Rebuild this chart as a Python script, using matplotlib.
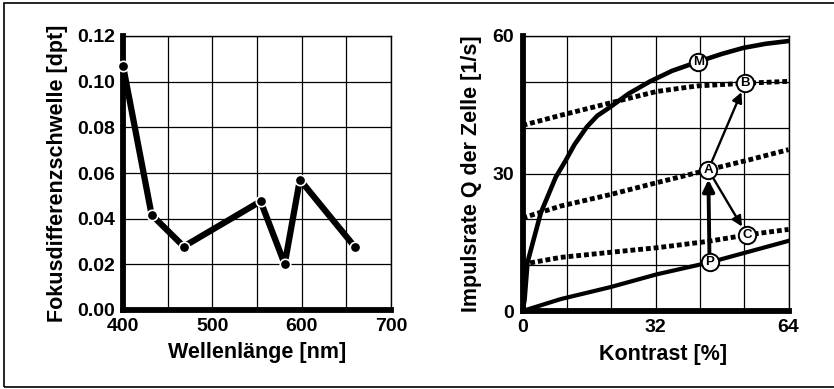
import numpy as np
import matplotlib
matplotlib.use("Agg")
import matplotlib.pyplot as plt
from matplotlib.patches import Rectangle

plt.rcParams['font.family'] = ['Liberation Sans', 'DejaVu Sans']
plt.rcParams['font.weight'] = 'bold'
plt.rcParams['axes.labelweight'] = 'bold'

# left panel: focus difference threshold vs wavelength
wavelength = [400, 432, 468, 554, 581, 598, 660]
threshold = [0.107, 0.0417, 0.0278, 0.0476, 0.0201, 0.0571, 0.0274]

# right panel: impulse rate vs contrast
m_x = [0, 0.5, 1.2, 4.4, 8.0, 10.3, 12.5, 15.5, 18.0, 21.1, 25.5, 30.7, 36.0,
       42.3, 48.0, 53.1, 58.5, 64]
m_y = [0, 2.5, 10.6, 21.4, 29.2, 32.7, 36.3, 40.2, 42.6, 44.5, 47.4, 50.1, 52.4,
       54.4, 56.1, 57.4, 58.3, 58.9]
top_x = [0, 9.2, 21.1, 32.3, 42.0, 53.6, 64]
top_y = [40.5, 42.7, 45.4, 47.9, 49.1, 49.7, 50.1]
mid_x = [0, 9.2, 21.1, 32.3, 44.7, 54.6, 64]
mid_y = [20.3, 22.9, 25.4, 28.0, 30.8, 33.0, 35.2]
low_x = [0, 9.2, 21.1, 32.3, 44.7, 54.0, 64]
low_y = [10.2, 11.7, 12.8, 13.8, 15.2, 16.6, 17.8]
p_x = [0, 9.2, 21.1, 32.3, 45.0, 64]
p_y = [0, 2.6, 5.2, 8.0, 10.6, 15.3]

labels = ['M', 'B', 'A', 'C', 'P']
lab_x = [42.3, 53.6, 44.7, 54.0, 45.0]
lab_y = [54.4, 49.7, 30.8, 16.6, 10.6]
arrows = [('A', 'B'), ('A', 'C'), ('P', 'A')]

fig = plt.figure(figsize=(8.34, 3.89), dpi=100)
ax1 = fig.add_axes([123 / 834, 1 - 310 / 389, 268 / 834, 274 / 389])
ax2 = fig.add_axes([522.5 / 834, 1 - 311 / 389, 266 / 834, 275 / 389])


def style(ax):
    ax.grid(True, which='both', color='black', lw=0.9)
    ax.set_axisbelow(True)
    ax.tick_params(which='both', length=0, labelsize=14, pad=6)
    for s in ['left', 'bottom']:
        ax.spines[s].set_linewidth(4.2)
    for s in ['top', 'right']:
        ax.spines[s].set_linewidth(1.0)


# left
ax1.plot(wavelength, threshold, color='black', lw=4.5, marker='o', ms=7.5,
         mfc='black', mec='white', mew=1.2, clip_on=False, zorder=3)
ax1.set_xlim(400, 700)
ax1.set_ylim(0, 0.12)
ax1.set_xticks([400, 500, 600, 700])
ax1.set_xticks([450, 550, 650], minor=True)
ax1.set_yticks(np.arange(0, 0.121, 0.02))
ax1.yaxis.set_major_formatter(plt.FormatStrFormatter('%.2f'))
style(ax1)
ax1.set_xlabel('Wellenlänge [nm]', fontsize=15.5)
ax1.set_ylabel('Fokusdifferenzschwelle [dpt]', fontsize=15.5)
ax1.xaxis.set_label_coords(0.5, -0.115)
ax1.yaxis.set_label_coords(-0.205, 0.5)

# right
dots = (0, (1.0, 0.6))
ax2.plot(m_x, m_y, color='black', lw=3.3, solid_joinstyle='round', zorder=3)
ax2.plot(p_x, p_y, color='black', lw=3.0, zorder=3)
for xs, ys in [(top_x, top_y), (mid_x, mid_y), (low_x, low_y)]:
    ax2.plot(xs, ys, color='black', lw=3.5, ls=dots, dash_capstyle='butt', zorder=3)

pos = {k: (x, y) for k, x, y in zip(labels, lab_x, lab_y)}
for a, b in arrows:
    thick = a == 'P'
    ax2.annotate('', xy=pos[b], xytext=pos[a],
                 arrowprops=dict(arrowstyle='-|>', color='black',
                                 lw=2.8 if thick else 1.7,
                                 mutation_scale=17 if thick else 15,
                                 shrinkA=6, shrinkB=7), zorder=4)
ax2.plot(lab_x, lab_y, ls='none', marker='o', ms=12.5, mfc='white', mec='black',
         mew=1.4, zorder=5)
for k, x, y in zip(labels, lab_x, lab_y):
    ax2.text(x, y, k, ha='center', va='center', fontsize=9.5,
             fontweight='bold', zorder=6)

ax2.set_xlim(0, 64)
ax2.set_ylim(0, 60)
ax2.set_xticks([0, 32, 64])
ax2.set_xticks(np.linspace(0, 64, 7), minor=True)
ax2.set_yticks([0, 30, 60])
ax2.set_yticks(np.arange(0, 61, 10), minor=True)
style(ax2)
ax2.set_xlabel('Kontrast [%]', fontsize=15.5)
ax2.set_ylabel('Impulsrate Q der Zelle [1/s]', fontsize=15.5)
ax2.xaxis.set_label_coords(0.53, -0.12)
ax2.yaxis.set_label_coords(-0.152, 0.5)

# outer frame
fig.patches.append(Rectangle((4 / 834, 2 / 389), 1, 1 - 5 / 389,
                             transform=fig.transFigure, fill=False,
                             ec='black', lw=1.2))

fig.savefig('out.png', dpi=100)
